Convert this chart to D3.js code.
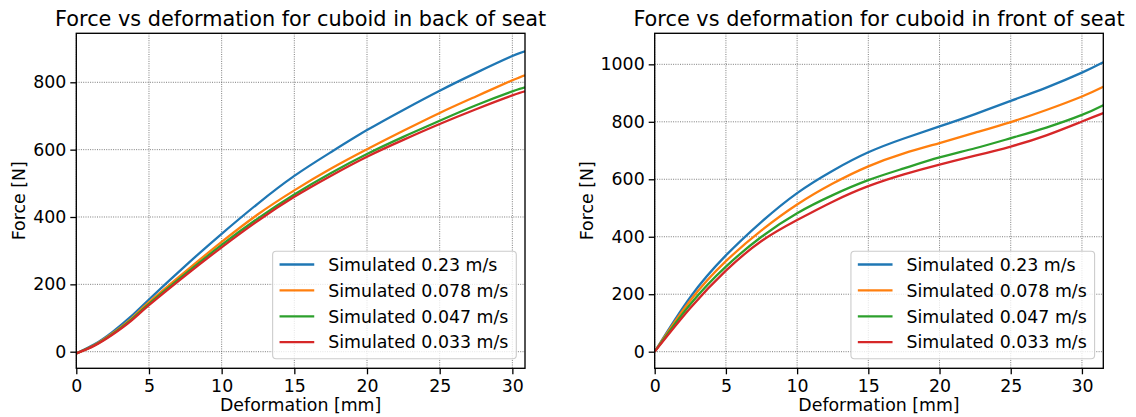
<!DOCTYPE html>
<html>
<head>
<meta charset="utf-8">
<script src="https://cdn.jsdelivr.net/npm/d3@7"></script>
<style>
  html, body { margin: 0; padding: 0; background: #fff; }
  svg { display: block; font-family: "DejaVu Sans", sans-serif; }
</style>
</head>
<body>
<svg id="chart" width="1136" height="417"></svg>
<script>
// Deformation samples [mm] and simulated force [N] for each impact speed.
const deformationBack = [0, 1.25, 2.5, 3.75, 5, 7.5, 10, 12.5, 15, 17.5, 20, 22.5, 25, 27.5, 30, 30.87];
const backForce023  = [-5, 22, 59, 104, 155, 255, 350, 440, 522, 592, 658, 718, 775, 828, 878, 892];
const backForce0078 = [-5, 20, 55, 97, 147, 238, 326, 408, 479, 543, 601, 656, 709, 758, 806, 821];
const backForce0047 = [-5, 19, 53, 94, 142, 231, 317, 396, 467, 530, 587, 638, 686, 732, 773, 785];
const backForce0033 = [-5, 18, 51, 91, 138, 226, 310, 389, 460, 522, 579, 629, 676, 720, 761, 773];

const deformationFront = [0, 2.5, 5, 7.5, 10, 12.5, 15, 17.5, 20, 22.5, 25, 27.5, 30, 31.5];
const frontForce023  = [0, 190, 335, 452, 552, 630, 694, 742, 784, 827, 873, 919, 971, 1007];
const frontForce0078 = [0, 178, 315, 422, 512, 585, 645, 690, 726, 762, 799, 841, 888, 922];
const frontForce0047 = [0, 165, 296, 400, 482, 545, 597, 638, 676, 708, 743, 780, 824, 858];
const frontForce0033 = [0, 152, 282, 385, 458, 522, 576, 617, 651, 682, 714, 753, 801, 830];

const seriesLabels = ["Simulated 0.23 m/s", "Simulated 0.078 m/s", "Simulated 0.047 m/s", "Simulated 0.033 m/s"];
const seriesColors = ["#1f77b4", "#ff7f0e", "#2ca02c", "#d62728"];
const xTicks = [0, 5, 10, 15, 20, 25, 30];
const yTicksBack = [0, 200, 400, 600, 800];
const yTicksFront = [0, 200, 400, 600, 800, 1000];

const svg = d3.select("#chart");
const FS = 17.36;

function panel(opts) {
  const { left, right, top, bottom, xDomain, yDomain, xs, ys, yTicks, title, id } = opts;
  const x = d3.scaleLinear().domain(xDomain).range([left, right]);
  const y = d3.scaleLinear().domain(yDomain).range([bottom, top]);
  const g = svg.append("g");

  g.append("clipPath").attr("id", id).append("rect")
    .attr("x", left).attr("y", top).attr("width", right - left).attr("height", bottom - top);

  // grid
  const grid = g.append("g").attr("stroke", "#333").attr("stroke-width", 0.8)
    .attr("stroke-dasharray", "1,1.3").attr("stroke-opacity", 0.8);
  grid.selectAll(".vx").data(xTicks).join("line")
    .attr("x1", d => x(d)).attr("x2", d => x(d)).attr("y1", top).attr("y2", bottom);
  grid.selectAll(".hy").data(yTicks).join("line")
    .attr("x1", left).attr("x2", right).attr("y1", d => y(d)).attr("y2", d => y(d));

  // curves
  const line = d3.line().x(d => x(d[0])).y(d => y(d[1])).curve(d3.curveNatural);
  const lines = g.append("g").attr("clip-path", `url(#${id})`);
  ys.forEach((vals, i) => {
    lines.append("path")
      .datum(xs.map((v, k) => [v, vals[k]]))
      .attr("fill", "none").attr("stroke", seriesColors[i]).attr("stroke-width", 2.3)
      .attr("stroke-linejoin", "round").attr("d", line);
  });

  // axes
  const ax = g.append("g").attr("transform", `translate(0,${bottom})`)
    .call(d3.axisBottom(x).tickValues(xTicks).tickFormat(d3.format("d"))
      .tickSize(6).tickPadding(5.5).tickSizeOuter(0));
  const ay = g.append("g").attr("transform", `translate(${left},0)`)
    .call(d3.axisLeft(y).tickValues(yTicks).tickFormat(d3.format("d"))
      .tickSize(6).tickPadding(4).tickSizeOuter(0));
  [ax, ay].forEach(a => {
    a.select(".domain").remove();
    a.selectAll(".tick line").attr("stroke", "#000").attr("stroke-width", 1.3);
    a.selectAll(".tick text").attr("font-size", FS).attr("fill", "#000")
      .attr("font-family", "DejaVu Sans, sans-serif");
  });

  // frame
  g.append("rect").attr("x", left).attr("y", top).attr("width", right - left).attr("height", bottom - top)
    .attr("fill", "none").attr("stroke", "#000").attr("stroke-width", 1.35);

  // legend
  const lg = g.append("g");
  const pad = 6.9, rowH = 25.9, handleLen = 34.7, handlePad = 13.9;
  const texts = [];
  const tmp = lg.append("g");
  seriesLabels.forEach(s => texts.push(tmp.append("text").attr("font-size", FS).text(s)));
  const maxW = d3.max(texts, t => t.node().getComputedTextLength());
  tmp.remove();
  const lw = pad * 2 + handleLen + handlePad + maxW + 1;
  const lh = 107.6;
  const lx = right - 8.7 - lw, ly = bottom - 9.5 - lh;
  lg.append("rect").attr("x", lx).attr("y", ly).attr("width", lw).attr("height", lh)
    .attr("rx", 3.5).attr("fill", "#fff").attr("fill-opacity", 0.8)
    .attr("stroke", "#cccccc").attr("stroke-width", 1.1);
  seriesLabels.forEach((s, i) => {
    const cy = ly + 13.3 + i * rowH;
    lg.append("line").attr("x1", lx + pad).attr("x2", lx + pad + handleLen)
      .attr("y1", cy).attr("y2", cy).attr("stroke", seriesColors[i]).attr("stroke-width", 2.3);
    lg.append("text").attr("x", lx + pad + handleLen + handlePad).attr("y", cy)
      .attr("dy", "0.36em").attr("font-size", FS).attr("fill", "#000").text(s);
  });

  // titles
  g.append("text").attr("x", (left + right) / 2).attr("y", 26).attr("text-anchor", "middle")
    .attr("font-size", 20.83).attr("fill", "#000").text(title);
  g.append("text").attr("x", (left + right) / 2).attr("y", 411).attr("text-anchor", "middle")
    .attr("font-size", FS).attr("fill", "#000").text("Deformation [mm]");
  g.append("text").attr("transform", `translate(${opts.ylabelX},${(top + bottom) / 2}) rotate(-90)`)
    .attr("text-anchor", "middle").attr("dy", "0.35em")
    .attr("font-size", FS).attr("fill", "#000").text("Force [N]");
}

panel({
  id: "clipBack", left: 76.3, right: 525, top: 33.3, bottom: 368.3,
  xDomain: [0, 30.87], yDomain: [-49.3, 945.5],
  xs: deformationBack, ys: [backForce023, backForce0078, backForce0047, backForce0033],
  yTicks: yTicksBack, title: "Force vs deformation for cuboid in back of seat", ylabelX: 19
});
panel({
  id: "clipFront", left: 654.7, right: 1103.3, top: 33.3, bottom: 368.3,
  xDomain: [0, 31.5], yDomain: [-57.8, 1108],
  xs: deformationFront, ys: [frontForce023, frontForce0078, frontForce0047, frontForce0033],
  yTicks: yTicksFront, title: "Force vs deformation for cuboid in front of seat", ylabelX: 587
});
</script>
</body>
</html>
